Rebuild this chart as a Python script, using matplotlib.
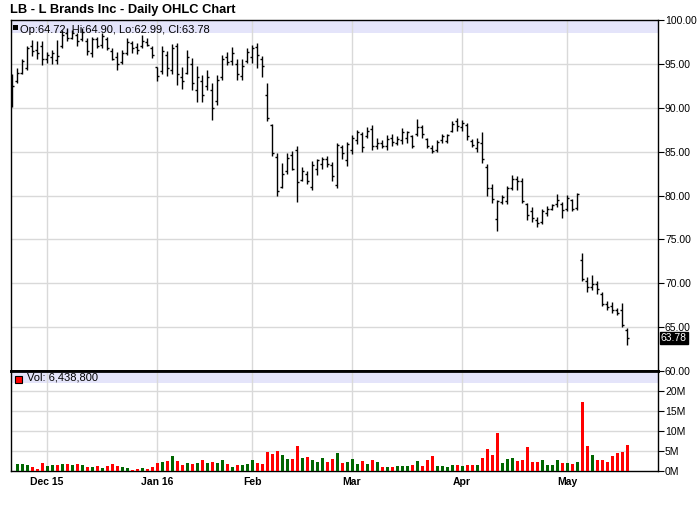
import matplotlib

matplotlib.use("Agg")
import matplotlib.pyplot as plt
import matplotlib.transforms as mtransforms
from matplotlib.patches import Rectangle
import numpy as np
import pandas as pd

plt.rcParams["font.family"] = ["Liberation Sans", "DejaVu Sans"]

# LB daily bars, 19 Nov 2015 .. 18 May 2016
holidays = ["2015-11-26", "2015-12-25", "2016-01-01", "2016-01-18", "2016-02-15", "2016-03-25"]
dates = pd.bdate_range("2015-11-19", "2016-05-18", freq="C", holidays=holidays)

opens = [
    91.3, 93.0, 94.0, 94.5, 97.0, 96.6, 97.0, 95.5, 95.8, 95.4,
    97.0, 98.5, 98.0, 98.3, 97.8, 97.6, 96.2, 97.8, 97.2, 97.8,
    96.5, 95.8, 95.2, 96.2, 97.4, 96.9, 97.0, 97.5, 96.8, 94.6,
    94.2, 96.0, 94.3, 97.0, 93.5, 94.0, 95.0, 92.0, 93.0, 92.5,
    92.0, 90.8, 93.5, 95.8, 95.3, 95.0, 93.6, 95.3, 95.8, 96.9,
    95.5, 91.4, 88.0, 84.4, 81.0, 82.8, 84.6, 85.2, 81.8, 82.5,
    81.0, 83.0, 83.6, 84.2, 83.5, 81.2, 85.5, 84.0, 85.2, 86.3,
    87.0, 86.8, 87.6, 85.6, 86.0, 85.6, 86.5, 86.0, 86.3, 86.6,
    86.8, 87.0, 87.8, 86.4, 85.4, 85.2, 86.3, 86.2, 87.4, 88.5,
    87.8, 88.0, 86.2, 85.4, 86.0, 83.3, 80.8, 77.3, 79.3, 79.4,
    80.8, 81.9, 81.7, 79.0, 78.2, 77.2, 77.0, 78.0, 78.5, 79.0,
    79.0, 78.5, 79.5, 78.6, 72.6, 70.3, 69.6, 69.9, 68.8, 67.6,
    67.4, 66.9, 66.9, 64.72,
]
highs = [
    93.8, 94.5, 95.6, 97.0, 97.7, 97.6, 97.6, 96.4, 96.6, 97.7,
    98.9, 99.1, 98.9, 98.5, 99.1, 97.9, 98.1, 98.1, 98.5, 98.1,
    96.8, 96.4, 96.6, 97.9, 97.6, 97.4, 98.3, 97.9, 97.0, 94.7,
    97.0, 96.5, 97.3, 97.4, 94.7, 96.6, 95.7, 94.8, 93.7, 94.3,
    92.8, 93.7, 96.0, 96.4, 96.9, 95.6, 95.5, 96.8, 97.2, 97.4,
    95.9, 92.8, 88.1, 84.8, 83.7, 84.8, 85.1, 85.6, 83.3, 82.8,
    83.9, 84.2, 84.4, 84.5, 83.8, 86.0, 85.7, 86.1, 86.9, 87.5,
    87.2, 87.8, 88.0, 86.6, 86.3, 86.9, 87.0, 86.8, 87.7, 87.3,
    86.9, 88.7, 88.0, 86.6, 85.7, 86.3, 87.0, 87.0, 88.5, 88.8,
    88.6, 88.3, 86.4, 86.6, 87.2, 83.6, 81.3, 79.5, 80.1, 81.1,
    82.3, 82.2, 82.0, 79.1, 78.7, 77.5, 78.5, 78.8, 79.0, 80.2,
    79.3, 80.1, 79.6, 80.3, 73.4, 70.7, 70.9, 70.2, 69.0, 68.0,
    67.9, 67.2, 67.8, 64.90,
]
lows = [
    90.1, 92.8, 93.9, 94.3, 95.9, 95.6, 94.9, 95.1, 95.0, 95.0,
    96.8, 97.6, 97.8, 97.0, 97.6, 96.0, 95.8, 96.8, 96.8, 96.6,
    95.4, 94.3, 95.0, 96.0, 96.2, 96.1, 96.8, 97.0, 95.7, 93.0,
    93.9, 93.6, 93.9, 92.6, 92.1, 93.9, 92.0, 90.6, 90.7, 92.0,
    88.6, 90.3, 93.2, 94.9, 94.9, 93.2, 93.2, 95.1, 95.1, 94.5,
    93.5, 88.5, 84.5, 79.9, 80.8, 82.5, 82.9, 79.3, 81.6, 81.3,
    80.6, 82.3, 83.0, 83.2, 81.7, 80.9, 84.2, 83.4, 84.7, 85.9,
    85.0, 86.6, 85.2, 85.3, 85.4, 85.2, 85.6, 85.7, 85.9, 86.0,
    85.4, 86.8, 86.6, 85.4, 84.9, 85.0, 86.0, 86.0, 87.2, 87.4,
    87.4, 86.3, 85.5, 85.0, 83.7, 79.9, 79.2, 75.9, 79.0, 79.0,
    80.6, 80.6, 79.2, 77.2, 77.0, 76.4, 76.7, 77.7, 78.3, 78.7,
    77.4, 78.2, 78.2, 78.3, 70.2, 69.0, 69.2, 68.8, 67.4, 67.0,
    66.6, 66.4, 65.0, 62.99,
]
closes = [
    92.5, 94.0, 95.3, 96.8, 96.5, 96.2, 95.5, 96.0, 96.2, 95.9,
    98.3, 98.0, 98.5, 97.6, 98.6, 96.5, 97.8, 97.0, 98.2, 96.8,
    95.6, 95.0, 96.2, 97.5, 96.8, 96.6, 97.6, 97.2, 96.0, 93.6,
    96.5, 94.5, 96.8, 93.8, 93.0, 95.8, 92.8, 93.5, 91.5, 93.5,
    90.0, 93.2, 95.5, 95.2, 96.2, 93.8, 94.8, 96.3, 96.8, 96.0,
    94.8, 88.8, 84.8, 80.5, 82.5, 84.3, 83.0, 81.5, 82.8, 81.7,
    83.5, 84.0, 84.2, 83.6, 82.2, 85.8, 84.8, 85.9, 86.5, 87.2,
    85.5, 87.4, 85.6, 86.0, 85.6, 86.4, 86.1, 86.4, 87.2, 87.25,
    85.6, 87.8, 87.0, 85.6, 85.1, 86.1, 86.8, 86.9, 88.2, 87.9,
    88.3, 86.8, 85.8, 86.1, 84.2, 80.8, 79.6, 79.4, 79.8, 80.8,
    81.9, 81.6, 79.4, 77.8, 77.4, 76.9, 78.2, 78.5, 78.9, 79.5,
    78.4, 79.7, 78.5, 80.2, 70.5, 69.6, 69.9, 69.3, 67.6, 67.3,
    67.0, 66.6, 65.2, 63.78,
]
# volume in millions of shares, and whether the day closed up (green) or down (red)
volume_m = [
    0.0, 1.75, 1.75, 1.5, 1.0, 0.5, 2.0, 1.25, 1.5, 1.5,
    1.75, 1.75, 1.5, 1.75, 1.5, 1.0, 1.0, 1.25, 0.75, 1.25,
    1.75, 1.25, 1.0, 0.75, 0.25, 0.5, 0.75, 0.5, 1.0, 2.0,
    2.25, 2.5, 3.75, 2.5, 1.5, 2.0, 1.75, 2.0, 2.75, 2.0,
    2.25, 2.0, 2.75, 1.75, 1.0, 1.5, 1.5, 1.75, 2.75, 2.0,
    1.75, 4.75, 4.25, 5.0, 4.0, 3.0, 3.0, 6.25, 3.25, 3.5,
    2.75, 2.25, 3.25, 2.25, 3.0, 4.5, 2.0, 2.25, 3.0, 1.75,
    2.5, 1.75, 2.75, 2.25, 1.0, 1.0, 1.0, 1.25, 1.25, 1.25,
    1.5, 2.5, 1.25, 2.75, 3.75, 1.25, 1.25, 1.0, 1.5, 1.5,
    1.25, 1.5, 1.5, 1.5, 3.25, 5.5, 4.0, 9.5, 2.0, 3.0,
    3.25, 2.5, 2.75, 6.0, 2.25, 2.25, 2.75, 1.5, 1.5, 2.75,
    2.0, 2.0, 1.75, 2.25, 17.25, 6.25, 4.0, 2.75, 2.75, 2.25,
    3.75, 4.5, 4.75, 6.4388,
]
volume_up = [
    1, 1, 1, 1, 0, 0, 0, 1, 1, 0,
    1, 0, 1, 0, 1, 0, 1, 0, 1, 0,
    0, 0, 1, 1, 0, 0, 1, 0, 0, 0,
    1, 0, 1, 0, 0, 1, 0, 1, 0, 1,
    0, 1, 1, 0, 1, 0, 1, 1, 1, 0,
    0, 0, 0, 0, 1, 1, 0, 0, 1, 0,
    1, 1, 1, 0, 0, 1, 0, 1, 1, 1,
    0, 1, 0, 1, 0, 1, 0, 1, 1, 1,
    0, 1, 0, 0, 0, 1, 1, 1, 1, 0,
    1, 0, 0, 1, 0, 0, 0, 0, 1, 1,
    1, 0, 0, 0, 0, 0, 1, 1, 1, 1,
    0, 1, 0, 1, 0, 0, 1, 0, 0, 0,
    0, 0, 0, 0,
]
month_labels = ["Dec 15", "Jan 16", "Feb", "Mar", "Apr", "May"]
price_ticks = [60, 65, 70, 75, 80, 85, 90, 95, 100]
volume_ticks = [0, 5, 10, 15, 20]

W, H = 700, 512
LAV = "#e4e4fa"
GRID = "#d9d9d9"
AX_W = 647

x = np.arange(len(dates))
month_pos = [i for i in range(1, len(dates)) if dates[i].month != dates[i - 1].month]

fig = plt.figure(figsize=(W / 100, H / 100), dpi=100)
ax_p = fig.add_axes([11 / W, 1 - 371 / H, AX_W / W, 351 / H])
ax_v = fig.add_axes([11 / W, 1 - 471 / H, AX_W / W, 100 / H], sharex=ax_p)

# --- price panel
ax_p.set_xlim(-0.2, 129.2)
ax_p.set_ylim(60, 100)
ax_p.axhspan(98.5, 100, color=LAV, zorder=0, lw=0)
for p in price_ticks[1:-1]:
    ax_p.axhline(p, color=GRID, lw=1, zorder=1)
for m in month_pos:
    ax_p.axvline(m, color=GRID, lw=1, zorder=1)

ax_p.vlines(x, lows, highs, color="black", lw=1, zorder=3)
ax_p.hlines(opens, x - 0.45, x, color="black", lw=1, zorder=3)
ax_p.hlines(closes, x, x + 0.45, color="black", lw=1, zorder=3)

ax_p.yaxis.tick_right()
ax_p.set_yticks(price_ticks)
ax_p.set_yticklabels([f"{p:.2f}" for p in price_ticks])
ax_p.tick_params(axis="y", direction="out", length=4, width=0.8, pad=1, labelsize=7.5)
ax_p.tick_params(axis="x", length=0, labelbottom=False)
for side in ["top", "left", "right"]:
    ax_p.spines[side].set_linewidth(1)
ax_p.spines["bottom"].set_linewidth(2)

trans = mtransforms.blended_transform_factory(ax_p.transAxes, ax_p.transData)
ax_p.text(1.0045, closes[-1], f"{closes[-1]:.2f}", transform=trans, color="white",
          fontsize=7.5, va="center", ha="left",
          bbox=dict(facecolor="black", edgecolor="black", pad=0.6))

ax_p.text(9.5 / AX_W, 0.985, f"Op:{opens[-1]:.2f}, Hi:{highs[-1]:.2f}, "
          f"Lo:{lows[-1]:.2f}, Cl:{closes[-1]:.2f}",
          transform=ax_p.transAxes, fontsize=8, va="top", ha="left")
fig.patches.append(Rectangle((13 / W, 1 - 29.5 / H), 5 / W, 5 / H, transform=fig.transFigure,
                             facecolor="black", edgecolor="black", lw=0))

# --- volume panel
ax_v.set_ylim(0, 25)
ax_v.axhspan(22, 25, color=LAV, zorder=0, lw=0)
for v in volume_ticks[1:]:
    ax_v.axhline(v, color=GRID, lw=1, zorder=1)
for m in month_pos:
    ax_v.axvline(m, color=GRID, lw=1, zorder=1)

colors = ["#006600" if up else "#ff0000" for up in volume_up]
ax_v.bar(x, volume_m, width=0.6, color=colors, zorder=3)

ax_v.yaxis.tick_right()
ax_v.set_yticks(volume_ticks)
ax_v.set_yticklabels([f"{v}M" for v in volume_ticks])
ax_v.tick_params(axis="y", direction="out", length=4, width=0.8, pad=1, labelsize=7.5)
ax_v.set_xticks(month_pos)
ax_v.set_xticklabels(month_labels, fontweight="bold", fontsize=7.5)
ax_v.tick_params(axis="x", length=0, pad=4)
ax_v.spines["top"].set_linewidth(2)
for side in ["bottom", "left", "right"]:
    ax_v.spines[side].set_linewidth(1)

ax_v.text(16 / AX_W, 0.985, f"Vol: {volume_m[-1] * 1e6:,.0f}",
          transform=ax_v.transAxes, fontsize=8, va="top", ha="left")
fig.patches.append(Rectangle((15.5 / W, 1 - 382.5 / H), 7 / W, 7 / H, transform=fig.transFigure,
                             facecolor="#ff0000", edgecolor="black", lw=0.8))

fig.text(10 / W, 1 - 10 / H, "LB - L Brands Inc - Daily OHLC Chart", fontsize=9.3,
         fontweight="bold", va="center", ha="left")

fig.savefig("out.png", dpi=100)
